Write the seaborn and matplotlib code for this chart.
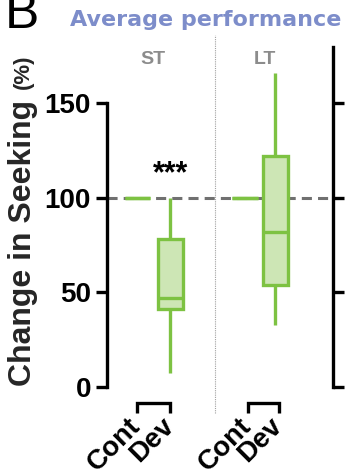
import matplotlib
matplotlib.use("Agg")
import matplotlib.pyplot as plt
import matplotlib.transforms as mtransforms
import pandas as pd
import seaborn as sns

# Five-number summaries (min, Q1, median, Q3, max) of the change in seeking, in %
groups = ["ST", "LT"]
conditions = ["Cont", "Dev"]
st_cont = [100, 100, 100, 100, 100]
st_dev = [7, 41, 47, 78, 100]
lt_cont = [100, 100, 100, 100, 100]
lt_dev = [32.5, 54, 82, 122, 166]
y_ticks = [0, 50, 100, 150]
significance = "***"
title = "Average performance"
panel_letter = "B"
y_label = "Change in Seeking"
y_unit = "(%)"

# Layout: box centres, tick centres and group-label centres along x
box_x = {"ST": [0.0, 1.0], "LT": [3.25, 4.18]}
tick_x = {"ST": [0.0, 1.0], "LT": [3.35, 4.30]}
group_label_x = {"ST": 0.48, "LT": 3.86}
divider_x = 2.35

EDGE = "#7dc242"
FILL = "#cde6b5"
LW = 2.4

sns.set_theme(style="ticks")
plt.rcParams["font.family"] = ["Liberation Sans", "DejaVu Sans"]
plt.rcParams["lines.solid_capstyle"] = "butt"

summaries = {("ST", "Cont"): st_cont, ("ST", "Dev"): st_dev,
             ("LT", "Cont"): lt_cont, ("LT", "Dev"): lt_dev}
rows = []
for g in groups:
    for i, c in enumerate(conditions):
        for v in summaries[(g, c)]:
            rows.append({"group": g, "condition": c, "pos": box_x[g][i], "value": v})
df = pd.DataFrame(rows)

fig = plt.figure(figsize=(3.45, 4.76), dpi=100)
ax = fig.add_axes([107 / 345, (476 - 386.7) / 476, 225.5 / 345, 340.2 / 476])

# reference line at 100 %
ax.axhline(100, color="#707070", lw=2.2, ls=(0, (3.3, 2.0)), zorder=1)

sns.boxplot(data=df, x="pos", y="value", native_scale=True, width=0.834,
            color=FILL, linecolor=EDGE, linewidth=LW, saturation=1,
            showcaps=False, whis=(0, 100), fliersize=0, ax=ax)

ax.set_xlim(-0.924, 5.91)
ax.set_ylim(0, 180)
ax.set_xlabel("")
ax.set_ylabel("")

# y axis: left spine up to 150, right spine full height, ticks outward on both sides
ax.set_yticks(y_ticks)
ax.set_yticklabels([str(t) for t in y_ticks], fontsize=20, fontweight="bold")
ax.tick_params(axis="y", direction="out", length=8, width=LW, pad=3.5,
               left=True, right=True, labelleft=True, labelright=False,
               colors="black")
for side in ("left", "right"):
    ax.spines[side].set_linewidth(LW)
    ax.spines[side].set_color("black")
ax.spines["left"].set_bounds(0, 150)
ax.spines["top"].set_visible(False)
ax.spines["bottom"].set_visible(False)

# x axis: a bracket per group and rotated condition labels below it
ax.set_xticks([])
trans = mtransforms.blended_transform_factory(ax.transData, ax.transAxes)
label_shift = mtransforms.ScaledTranslation(-10 / 100, -26 / 100, fig.dpi_scale_trans)
for g in groups:
    x0, x1 = tick_x[g]
    ax.plot([x0, x0, x1, x1], [-0.076, -0.049, -0.049, -0.076], transform=trans,
            clip_on=False, color="black", lw=LW, solid_joinstyle="miter")
    for x, c in zip(tick_x[g], conditions):
        ax.text(x, 0, c, transform=trans + label_shift, rotation=45,
                rotation_mode="anchor", ha="right", va="top", fontsize=20,
                fontweight="bold", color="black", clip_on=False)

# dotted divider between the ST and LT groups
ax.plot([divider_x, divider_x], [-0.077, 1.034], transform=trans, clip_on=False,
        color="#a0a0a0", lw=0.8, ls=(0, (1, 1)))

for g in groups:
    ax.text(group_label_x[g], 171, g, ha="center", va="baseline", fontsize=14,
            fontweight="bold", color="#8c8c8c")

ax.text(box_x["ST"][1], 108, significance, ha="center", va="baseline",
        fontsize=22, fontweight="bold", color="black")

# axis title, split in two sizes
fig.text(31 / 345, 1 - 386 / 476, y_label, rotation=90, rotation_mode="anchor",
         ha="left", va="baseline", fontsize=23, fontweight="bold")
fig.text(29 / 345, 1 - 89 / 476, y_unit, rotation=90, rotation_mode="anchor",
         ha="left", va="baseline", fontsize=16, fontweight="bold")

fig.text(70 / 345, 1 - 26 / 476, title, ha="left", va="baseline", fontsize=16,
         fontweight="bold", family="DejaVu Sans", color="#7d8dca")
fig.text(5 / 345, 1 - 28 / 476, panel_letter, ha="left", va="baseline",
         fontsize=37, color="black")

fig.savefig("out.png", dpi=100)
